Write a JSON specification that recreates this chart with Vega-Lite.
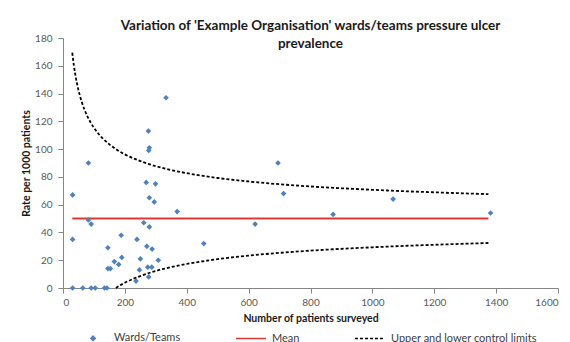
{
  "$schema": "https://vega.github.io/schema/vega-lite/v6.json",
  "autosize": {"type": "none"},
  "width": 495,
  "height": 250,
  "padding": {"left": 63, "top": 38, "right": 12, "bottom": 54},
  "background": "white",
  "title": {
    "text": ["Variation of 'Example Organisation' wards/teams pressure ulcer", "prevalence"],
    "font": "Lato",
    "fontSize": 13.5,
    "fontWeight": "bold",
    "lineHeight": 18,
    "color": "#1a1a1a",
    "anchor": "middle",
    "offset": -13,
    "dy": 4
  },
  "config": {
    "view": {"stroke": null},
    "axis": {
      "grid": false,
      "domainColor": "#868686",
      "tickColor": "#868686",
      "tickSize": 5,
      "labelFont": "Lato",
      "labelFontSize": 10,
      "labelColor": "#595959",
      "titleFont": "Lato",
      "titleFontSize": 10.5,
      "titleFontWeight": "bold",
      "titleColor": "#1a1a1a"
    },
    "legend": {
      "labelFont": "Lato",
      "labelFontSize": 11,
      "labelColor": "#404040"
    }
  },
  "datasets": {
    "wards": [
      {"n": 31, "rate": 67}, {"n": 31, "rate": 35}, {"n": 31, "rate": 0}, {"n": 64, "rate": 0},
      {"n": 82, "rate": 90}, {"n": 82, "rate": 49}, {"n": 91, "rate": 46}, {"n": 91, "rate": 0},
      {"n": 104, "rate": 0}, {"n": 134, "rate": 0}, {"n": 142, "rate": 0}, {"n": 145, "rate": 29},
      {"n": 145, "rate": 14}, {"n": 153, "rate": 14}, {"n": 166, "rate": 19}, {"n": 180, "rate": 17},
      {"n": 190, "rate": 22}, {"n": 188, "rate": 38}, {"n": 239, "rate": 35}, {"n": 236, "rate": 5},
      {"n": 250, "rate": 21}, {"n": 247, "rate": 13}, {"n": 269, "rate": 76}, {"n": 299, "rate": 75},
      {"n": 279, "rate": 65}, {"n": 295, "rate": 62}, {"n": 261, "rate": 47}, {"n": 279, "rate": 44},
      {"n": 271, "rate": 30}, {"n": 288, "rate": 28}, {"n": 274, "rate": 15}, {"n": 287, "rate": 15},
      {"n": 277, "rate": 8}, {"n": 308, "rate": 20}, {"n": 369, "rate": 55}, {"n": 276, "rate": 113},
      {"n": 279, "rate": 101}, {"n": 277, "rate": 99}, {"n": 333, "rate": 137}, {"n": 455, "rate": 32},
      {"n": 621, "rate": 46}, {"n": 695, "rate": 90}, {"n": 713, "rate": 68}, {"n": 873, "rate": 53},
      {"n": 1067, "rate": 64}, {"n": 1382, "rate": 54}
    ],
    "mean": [
      {"n": 30, "rate": 50}, {"n": 1375, "rate": 50}
    ],
    "limits": [
      {"n": 30, "rate": 169.4, "bound": "upper"}, {"n": 35, "rate": 160.5, "bound": "upper"},
      {"n": 40, "rate": 153.4, "bound": "upper"}, {"n": 45, "rate": 147.5, "bound": "upper"},
      {"n": 50, "rate": 142.5, "bound": "upper"}, {"n": 60, "rate": 134.4, "bound": "upper"},
      {"n": 70, "rate": 128.1, "bound": "upper"}, {"n": 80, "rate": 123.1, "bound": "upper"},
      {"n": 90, "rate": 118.9, "bound": "upper"}, {"n": 100, "rate": 115.4, "bound": "upper"},
      {"n": 125, "rate": 108.5, "bound": "upper"}, {"n": 150, "rate": 103.4, "bound": "upper"},
      {"n": 175, "rate": 99.4, "bound": "upper"}, {"n": 200, "rate": 96.2, "bound": "upper"},
      {"n": 250, "rate": 91.4, "bound": "upper"}, {"n": 300, "rate": 87.7, "bound": "upper"},
      {"n": 350, "rate": 84.9, "bound": "upper"}, {"n": 400, "rate": 82.7, "bound": "upper"},
      {"n": 500, "rate": 79.2, "bound": "upper"}, {"n": 600, "rate": 76.7, "bound": "upper"},
      {"n": 700, "rate": 74.7, "bound": "upper"}, {"n": 800, "rate": 73.1, "bound": "upper"},
      {"n": 900, "rate": 71.8, "bound": "upper"}, {"n": 1000, "rate": 70.7, "bound": "upper"},
      {"n": 1100, "rate": 69.7, "bound": "upper"}, {"n": 1200, "rate": 68.9, "bound": "upper"},
      {"n": 1300, "rate": 68.1, "bound": "upper"}, {"n": 1375, "rate": 67.6, "bound": "upper"},
      {"n": 171, "rate": 0, "bound": "lower"}, {"n": 180, "rate": 1.3, "bound": "lower"},
      {"n": 200, "rate": 3.8, "bound": "lower"}, {"n": 225, "rate": 6.4, "bound": "lower"},
      {"n": 250, "rate": 8.6, "bound": "lower"}, {"n": 275, "rate": 10.6, "bound": "lower"},
      {"n": 300, "rate": 12.3, "bound": "lower"}, {"n": 350, "rate": 15.1, "bound": "lower"},
      {"n": 400, "rate": 17.3, "bound": "lower"}, {"n": 500, "rate": 20.8, "bound": "lower"},
      {"n": 600, "rate": 23.3, "bound": "lower"}, {"n": 700, "rate": 25.3, "bound": "lower"},
      {"n": 800, "rate": 26.9, "bound": "lower"}, {"n": 900, "rate": 28.2, "bound": "lower"},
      {"n": 1000, "rate": 29.3, "bound": "lower"}, {"n": 1100, "rate": 30.3, "bound": "lower"},
      {"n": 1200, "rate": 31.1, "bound": "lower"}, {"n": 1300, "rate": 31.9, "bound": "lower"},
      {"n": 1375, "rate": 32.4, "bound": "lower"}
    ]
  },
  "encoding": {
    "x": {
      "field": "n", "type": "quantitative",
      "scale": {"domain": [0, 1600], "nice": false, "zero": true},
      "axis": {"values": [0, 200, 400, 600, 800, 1000, 1200, 1400, 1600], "format": "d", "title": "Number of patients surveyed", "labelPadding": 4, "titlePadding": 6}
    },
    "y": {
      "field": "rate", "type": "quantitative",
      "scale": {"domain": [0, 180], "nice": false},
      "axis": {"values": [0, 20, 40, 60, 80, 100, 120, 140, 160, 180], "format": "d", "title": "Rate per 1000 patients", "labelPadding": 6, "titlePadding": 3}
    },
    "color": {
      "field": "series", "type": "nominal",
      "scale": {"domain": ["Wards/Teams", "Mean", "Upper and lower control limits"], "range": ["#4F81BD", "#DE3A35", "#000000"]},
      "legend": {
        "title": null,
        "orient": "none",
        "legendX": 14,
        "legendY": 284,
        "direction": "horizontal",
        "columnPadding": 52,
        "labelOffset": 5,
        "symbolSize": 900,
        "padding": 0,
        "encode": {
          "symbols": {
            "update": {
              "shape": {"signal": "datum.value === 'Wards/Teams' ? 'diamond' : 'stroke'"},
              "size": {"signal": "datum.value === 'Wards/Teams' ? 20 : 900"},
              "fill": {"signal": "datum.value === 'Wards/Teams' ? '#4F81BD' : 'transparent'"},
              "stroke": {"signal": "datum.value === 'Wards/Teams' ? 'transparent' : (datum.value === 'Mean' ? '#DE3A35' : '#000000')"},
              "strokeDash": {"signal": "datum.value === 'Upper and lower control limits' ? [3, 2] : [1, 0]"},
              "strokeWidth": {"value": 1.5},
              "opacity": {"value": 1}
            }
          }
        }
      }
    }
  },
  "layer": [
    {
      "data": {"name": "limits"},
      "transform": [{"calculate": "'Upper and lower control limits'", "as": "series"}],
      "mark": {"type": "line", "interpolate": "monotone", "strokeDash": [3, 2], "strokeWidth": 1.8},
      "encoding": {
        "detail": {"field": "bound"}
      }
    },
    {
      "data": {"name": "mean"},
      "transform": [{"calculate": "'Mean'", "as": "series"}],
      "mark": {"type": "line", "strokeWidth": 2}
    },
    {
      "data": {"name": "wards"},
      "transform": [{"calculate": "'Wards/Teams'", "as": "series"}],
      "mark": {"type": "point", "shape": "diamond", "filled": true, "size": 32, "opacity": 1}
    }
  ]
}
